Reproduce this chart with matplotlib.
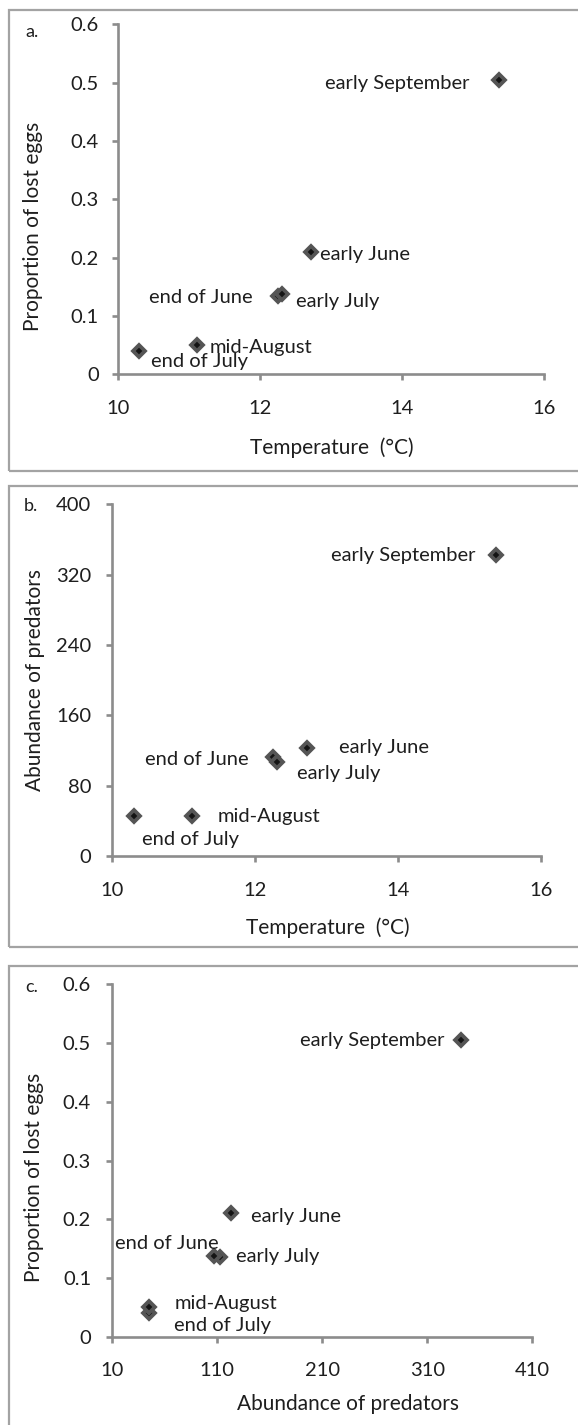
import matplotlib
matplotlib.use("Agg")
import matplotlib.pyplot as plt
from matplotlib.patches import Rectangle

plt.rcParams['font.family'] = ['Lato', 'DejaVu Sans']

# ---------------- data ----------------
periods = ['early June', 'end of June', 'early July', 'end of July', 'mid-August', 'early September']
temperature = [12.72, 12.25, 12.31, 10.30, 11.11, 15.37]
predators = [123, 113, 107, 45, 45, 342]
lost_eggs = [0.21, 0.135, 0.138, 0.04, 0.05, 0.505]

temp_ticks = [10, 12, 14, 16]
temp_ticklabels = ['10', '12', '14', '16']
prop_ticks = [0, 0.1, 0.2, 0.3, 0.4, 0.5, 0.6]
prop_ticklabels = ['0', '0.1', '0.2', '0.3', '0.4', '0.5', '0.6']
pred_ticks = [0, 80, 160, 240, 320, 400]
pred_ticklabels = ['0', '80', '160', '240', '320', '400']
pred_xticks = [10, 110, 210, 310, 410]
pred_xticklabels = ['10', '110', '210', '310', '410']

# ---------------- layout (pixels) ----------------
W, H = 578, 1425
DPI = 100
fig = plt.figure(figsize=(W / DPI, H / DPI), dpi=DPI)

def frac_rect(l, t, r, b):
    return [l / W, 1 - b / H, (r - l) / W, (b - t) / H]

AX_COL = '#8c8c8c'
BOX_COL = '#a3a3a3'
TXT_COL = '#1e1e1e'
FS = 14.5
FS_AXLAB = 15

# label offsets (pixels) per panel, per period: (dx, dy_down, ha)
offs_a = {'early June': (9, 3, 'left'), 'end of June': (-25, 2, 'right'),
          'early July': (14, 8, 'left'), 'end of July': (12, 11, 'left'),
          'mid-August': (13, 2, 'left'), 'early September': (-30, 4, 'right')}
offs_b = {'early June': (32, 0, 'left'), 'end of June': (-24, 3, 'right'),
          'early July': (20, 12, 'left'), 'end of July': (8, 23, 'left'),
          'mid-August': (26, 0, 'left'), 'early September': (-20, 0, 'right')}
offs_c = {'early June': (20, 3, 'left'), 'end of June': (-2, -14, 'right'),
          'early July': (22, 1, 'left'), 'end of July': (25, 12, 'left'),
          'mid-August': (26, -4, 'left'), 'early September': (-16, 0, 'right')}

panels = [
    dict(box=(9, 10, 600, 471), ax=(118, 24.3, 544, 374.3), x=temperature, y=lost_eggs,
         xlim=(10, 16), ylim=(0, 0.6), xt=temp_ticks, xtl=temp_ticklabels,
         yt=prop_ticks, ytl=prop_ticklabels, xlabel='Temperature  (°C)',
         ylabel='Proportion of lost eggs', letter='a.', letter_xy=(25, 32),
         offs=offs_a, ylab_xy=(33, 226), xlab_xy=(332, 448), ypad=13),
    dict(box=(9, 486, 600, 947), ax=(112.3, 504.3, 540.7, 856), x=temperature, y=predators,
         xlim=(10, 16), ylim=(0, 400), xt=temp_ticks, xtl=temp_ticklabels,
         yt=pred_ticks, ytl=pred_ticklabels, xlabel='Temperature  (°C)',
         ylabel='Abundance of predators', letter='b.', letter_xy=(24, 506),
         offs=offs_b, ylab_xy=(35, 680), xlab_xy=(328, 928), ypad=15),
    dict(box=(9, 966, 600, 1440), ax=(112.3, 984.3, 532.3, 1336.7), x=predators, y=lost_eggs,
         xlim=(10, 410), ylim=(0, 0.6), xt=pred_xticks, xtl=pred_xticklabels,
         yt=prop_ticks, ytl=prop_ticklabels, xlabel='Abundance of predators',
         ylabel='Proportion of lost eggs', letter='c.', letter_xy=(25, 987),
         offs=offs_c, ylab_xy=(34, 1177), xlab_xy=(348, 1404), ypad=15),
]

for p in panels:
    bl, bt, br, bb = p['box']
    fig.add_artist(Rectangle((bl / W, 1 - bb / H), (br - bl) / W, (bb - bt) / H,
                             transform=fig.transFigure, fill=False, ec=BOX_COL, lw=1.6))
    l, t, r, b = p['ax']
    ax = fig.add_axes(frac_rect(l, t, r, b))
    ax.set_xlim(*p['xlim'])
    ax.set_ylim(*p['ylim'])
    for s in ['top', 'right']:
        ax.spines[s].set_visible(False)
    for s in ['left', 'bottom']:
        ax.spines[s].set_color(AX_COL)
        ax.spines[s].set_linewidth(1.9)
    ax.set_xticks(p['xt'])
    ax.set_xticklabels(p['xtl'])
    ax.set_yticks(p['yt'])
    ax.set_yticklabels(p['ytl'])
    ax.tick_params(axis='both', direction='out', length=4.5, width=1.9, color=AX_COL,
                   labelsize=FS, labelcolor=TXT_COL)
    ax.tick_params(axis='x', pad=14)
    ax.tick_params(axis='y', pad=p['ypad'] * 72 / DPI)

    ax.plot(p['x'], p['y'], linestyle='none', marker='D', markersize=6.3,
            markerfacecolor='#141414', markeredgecolor='#555555', markeredgewidth=2.7,
            clip_on=False, zorder=3)

    for name, xv, yv in zip(periods, p['x'], p['y']):
        dx, dy, ha = p['offs'][name]
        ax.annotate(name, (xv, yv), xytext=(dx, -dy), textcoords='offset pixels',
                    ha=ha, va='center', fontsize=FS, color=TXT_COL, zorder=4)

    # axis labels placed in figure pixel coordinates
    fig.text(p['ylab_xy'][0] / W, 1 - p['ylab_xy'][1] / H, p['ylabel'], rotation=90,
             ha='center', va='center', fontsize=FS_AXLAB, color=TXT_COL)
    fig.text(p['xlab_xy'][0] / W, 1 - p['xlab_xy'][1] / H, p['xlabel'],
             ha='center', va='center', fontsize=FS_AXLAB, color=TXT_COL)
    fig.text(p['letter_xy'][0] / W, 1 - p['letter_xy'][1] / H, p['letter'],
             ha='left', va='center', fontsize=13, color=TXT_COL)

fig.savefig('out.png', dpi=DPI)
